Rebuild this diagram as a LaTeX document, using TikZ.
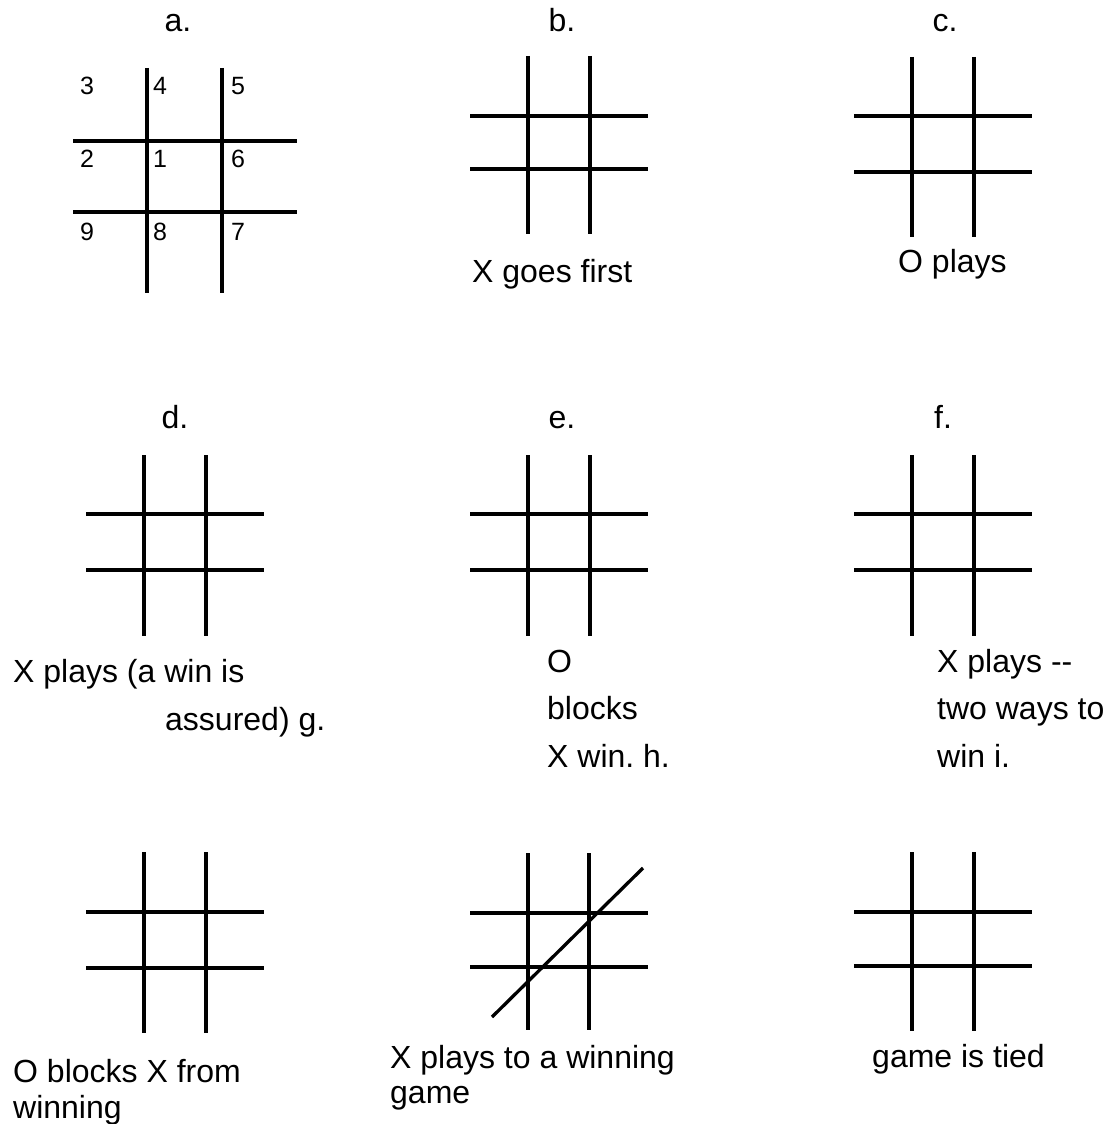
\documentclass[tikz,border=0pt]{standalone}
\usepackage{fontspec}
\setmainfont{Liberation Sans}[Ligatures=NoCommon]
\frenchspacing
\begin{document}
\begin{tikzpicture}[x=1pt,y=-1pt,
  gridline/.style={line width=3.3pt,black},
  lbl/.style={inner sep=0pt,anchor=base,font=\fontsize{32}{38}\selectfont},
  capt/.style={inner sep=0pt,anchor=base west,font=\fontsize{32}{38}\selectfont},
  num/.style={inner sep=0pt,anchor=base west,font=\fontsize{25}{30}\selectfont}]
\useasboundingbox (0,0) rectangle (1114,1124);
\fill[white] (0,0) rectangle (1114,1124);
% grid a
\draw[gridline] (147,68) -- (147,293) (222,68) -- (222,293)
  (73,141) -- (297,141) (73,212) -- (297,212);
\node[num] (n3) at (80,95) {3};
\node[num] (n4) at (153,95) {4};
\node[num] (n5) at (231,95) {5};
\node[num] (n2) at (80,167) {2};
\node[num] (n1) at (153,167) {1};
\node[num] (n6) at (231,167) {6};
\node[num] (n9) at (80,240) {9};
\node[num] (n8) at (153,240) {8};
\node[num] (n7) at (231,240) {7};
% grid b
\draw[gridline] (528,56) -- (528,234) (590,56) -- (590,234)
  (470,116) -- (648,116) (470,169) -- (648,169);
% grid c
\draw[gridline] (912,57) -- (912,237) (974,57) -- (974,237)
  (854,116) -- (1032,116) (854,172) -- (1032,172);
% grid d
\draw[gridline] (144,455) -- (144,636) (206,455) -- (206,636)
  (86,514) -- (264,514) (86,570) -- (264,570);
% grid e
\draw[gridline] (528,455) -- (528,636) (590,455) -- (590,636)
  (470,514) -- (648,514) (470,570) -- (648,570);
% grid f
\draw[gridline] (912,455) -- (912,636) (974,455) -- (974,636)
  (854,514) -- (1032,514) (854,570) -- (1032,570);
% grid g
\draw[gridline] (144,852) -- (144,1033) (206,852) -- (206,1033)
  (86,912) -- (264,912) (86,968) -- (264,968);
% grid h
\draw[gridline] (528,853) -- (528,1030) (589,853) -- (589,1030)
  (470,913) -- (648,913) (470,967) -- (648,967);
\draw[gridline] (492,1017) -- (643,868);
% grid i
\draw[gridline] (912,852) -- (912,1031) (974,852) -- (974,1031)
  (854,912) -- (1032,912) (854,966) -- (1032,966);
% labels
\node[lbl] (la) at (178,32) {a.};
\node[lbl] (lb) at (562,32) {b.};
\node[lbl] (lc) at (945,32) {c.};
\node[lbl] (ld) at (175,428) {d.};
\node[lbl] (le) at (562,428) {e.};
\node[lbl] (lf) at (943,428) {f.};
% captions
\node[capt] (tb) at (472,282) {X goes first};
\node[capt] (tc) at (898,272) {O plays};
\node[capt] (td1) at (13,682) {X plays (a win is};
\node[capt] (td2) at (165,730) {assured) g.};
\node[capt] (te1) at (547,672) {O};
\node[capt] (te2) at (547,719) {blocks};
\node[capt] (te3) at (547,767) {X win. h.};
\node[capt] (tf1) at (937,672) {X plays \mbox{-}\mbox{-}};
\node[capt] (tf2) at (937,719) {two ways to};
\node[capt] (tf3) at (937,767) {win i.};
\node[capt] (tg1) at (13,1082) {O blocks X from};
\node[capt] (tg2) at (13,1118) {winning};
\node[capt] (th1) at (390,1068) {X plays to a winning};
\node[capt] (th2) at (390,1103) {game};
\node[capt] (ti) at (872,1067) {game is tied};
\end{tikzpicture}
\end{document}
